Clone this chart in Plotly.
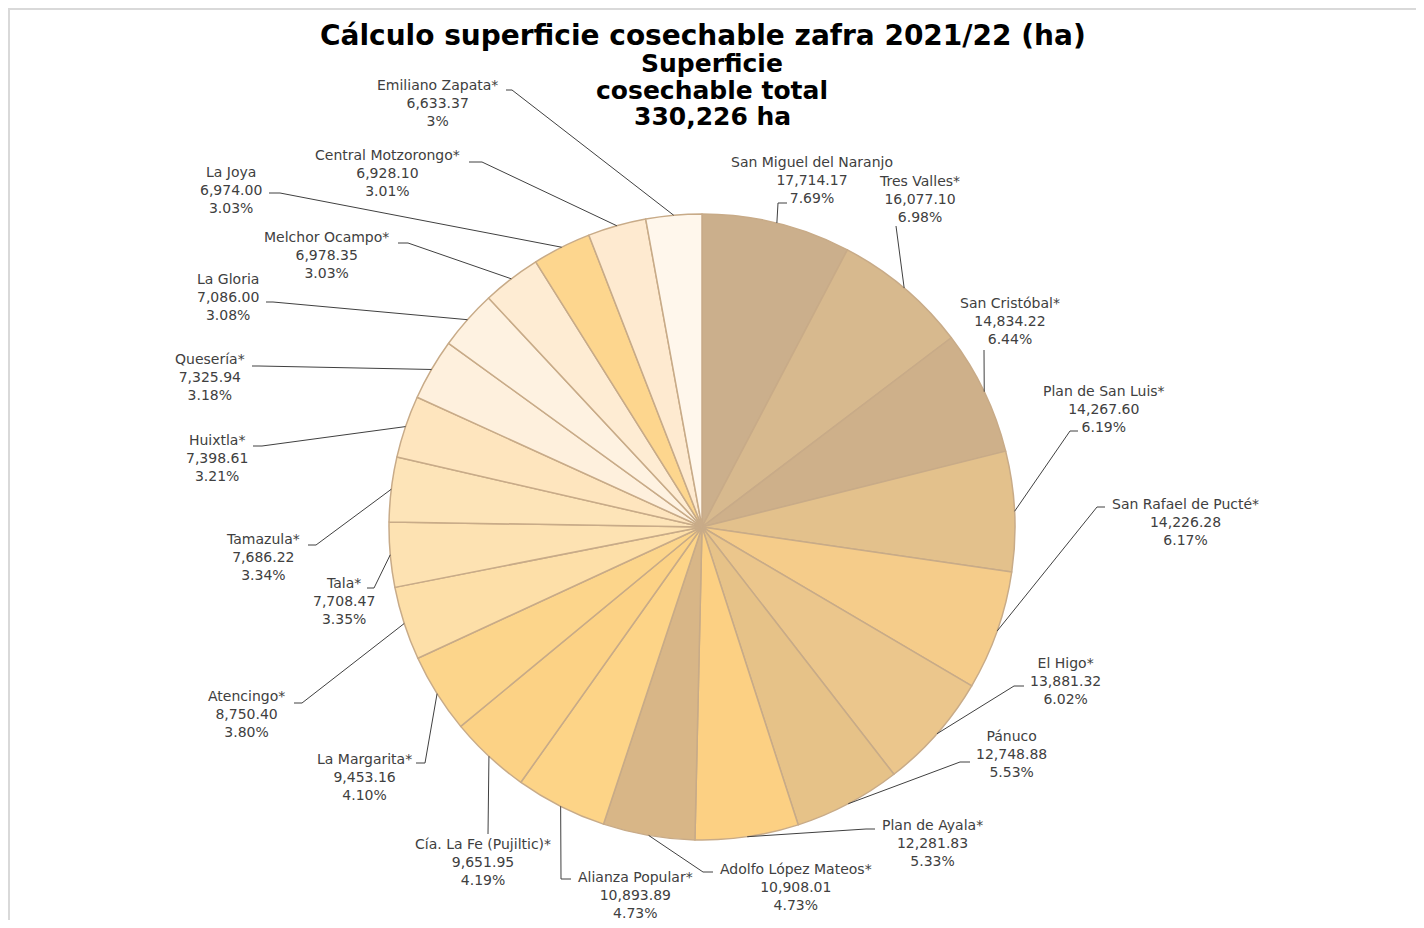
import numpy as np
import plotly.graph_objects as go

# ---------------- data ----------------
ingenios = [
    "San Miguel del Naranjo", "Tres Valles*", "San Cristóbal*", "Plan de San Luis*",
    "San Rafael de Pucté*", "El Higo*", "Pánuco", "Plan de Ayala*",
    "Adolfo López Mateos*", "Alianza Popular*", "Cía. La Fe (Pujiltic)*", "La Margarita*",
    "Atencingo*", "Tala*", "Tamazula*", "Huixtla*", "Quesería*", "La Gloria",
    "Melchor Ocampo*", "La Joya", "Central Motzorongo*", "Emiliano Zapata*",
]
superficie = [
    17714.17, 16077.10, 14834.22, 14267.60, 14226.28, 13881.32, 12748.88, 12281.83,
    10908.01, 10893.89, 9651.95, 9453.16, 8750.40, 7708.47, 7686.22, 7398.61,
    7325.94, 7086.00, 6978.35, 6974.00, 6928.10, 6633.37,
]
porcentaje = [
    "7.69%", "6.98%", "6.44%", "6.19%", "6.17%", "6.02%", "5.53%", "5.33%",
    "4.73%", "4.73%", "4.19%", "4.10%", "3.80%", "3.35%", "3.34%", "3.21%",
    "3.18%", "3.08%", "3.03%", "3.03%", "3.01%", "3%",
]
titulo = "Cálculo superficie cosechable zafra 2021/22 (ha)"
subtitulo = ["Superficie", "cosechable total", "330,226 ha"]

# ---------------- styles ----------------
colores = [
    "#CBAF8C", "#D7B98E", "#CEB08A", "#E3C18C", "#F5CC8A", "#EBC68C",
    "#E6C288", "#FCD083", "#D8B687", "#FDD487", "#FCD285", "#FCD58B",
    "#FDDFA8", "#FDE2B2", "#FDE4B8", "#FEE5BE", "#FEF0DD", "#FEF2E1",
    "#FEECD3", "#FDD68E", "#FEEAD0", "#FFF7EC",
]
OFF = 8            # page offset of the plot (body margin)
W, H = 1408, 912   # plot size
CX, CY, R = 702, 527, 313  # pie centre / radius in page pixels

# label layout: text centre (x, y), knee (x, y), end (x, y) in page pixels
label_layout = [
    (812, 180, 778, 203, 787, 203),
    (919, 199, 896, 226, 896, 226),
    (1010, 321, 984, 350, 984, 350),
    (1104, 409, 1070, 431, 1078, 431),
    (1185, 522, 1097, 507, 1105, 507),
    (1065, 681, 1014, 686, 1024, 686),
    (1011, 754, 960, 762, 970, 762),
    (932, 843, 866, 829, 875, 829),
    (796, 887, 703, 872, 713, 872),
    (635, 895, 561, 879, 571, 879),
    (483, 862, 488, 834, 488, 834),
    (364, 777, 425, 763, 416, 763),
    (246, 714, 302, 703, 294, 703),
    (344, 601, 374, 588, 367, 588),
    (263, 557, 316, 545, 308, 545),
    (217, 458, 262, 446, 253, 446),
    (210, 377, 259, 366, 252, 366),
    (228, 297, 273, 302, 266, 302),
    (326, 255, 408, 243, 398, 243),
    (231, 190, 280, 193, 269, 193),
    (387, 173, 482, 162, 469, 162),
    (437, 103, 512, 90, 506, 90),
]

FONT = "DejaVu Sans"
TXT = "#404040"


def px(x):
    return (x - OFF) / W


def py(y):
    return 1 - (y - OFF) / H


fig = go.Figure()
fig.add_trace(go.Pie(
    labels=ingenios,
    values=superficie,
    customdata=porcentaje,
    sort=False,
    direction="clockwise",
    rotation=0,
    textinfo="none",
    hovertemplate="%{label}<br>%{value:,.2f}<br>%{customdata}<extra></extra>",
    marker=dict(colors=colores, line=dict(color="#C8AB88", width=1.5)),
    domain=dict(x=[px(CX - R), px(CX + R)], y=[py(CY + R), py(CY - R)]),
    showlegend=False,
))

# slice mid-angles from data (clockwise from 12 o'clock)
vals = np.array(superficie)
cum = np.cumsum(vals) - vals / 2
theta = cum / vals.sum() * 2 * np.pi

shapes = [dict(type="rect", xref="paper", yref="paper",
               x0=1 / W, x1=1.05, y0=-0.05, y1=1 - 1 / H,
               line=dict(color="#D9D9D9", width=2), fillcolor="rgba(0,0,0,0)", layer="below")]
annotations = []
for i, name in enumerate(ingenios):
    ex = CX + R * np.sin(theta[i])
    ey = CY - R * np.cos(theta[i])
    tx, ty, kx, ky, endx, endy = label_layout[i]
    shapes.append(dict(
        type="path", xref="paper", yref="paper",
        path=f"M {px(ex)} {py(ey)} L {px(kx)} {py(ky)} L {px(endx)} {py(endy)}",
        line=dict(color="#404040", width=1),
    ))
    annotations.append(dict(
        x=px(tx), y=py(ty), xref="paper", yref="paper",
        text=f"{name}<br>{superficie[i]:,.2f}<br>{porcentaje[i]}",
        showarrow=False, xanchor="center", yanchor="middle", align="center",
        font=dict(family=FONT, size=14, color=TXT),
    ))

annotations.append(dict(
    x=px(703), y=py(36), xref="paper", yref="paper", text=f"<b>{titulo}</b>",
    showarrow=False, xanchor="center", yanchor="middle",
    font=dict(family=FONT, size=28, color="#000000"),
))
for j, line in enumerate(subtitulo):
    annotations.append(dict(
        x=px(712), y=py(63 + 27 * j), xref="paper", yref="paper", text=f"<b>{line}</b>",
        showarrow=False, xanchor="center", yanchor="middle",
        font=dict(family=FONT, size=25, color="#000000"),
    ))

fig.update_layout(
    margin=dict(l=0, r=0, t=0, b=0),
    paper_bgcolor="white",
    plot_bgcolor="white",
    shapes=shapes,
    annotations=annotations,
    font=dict(family=FONT, color=TXT),
)

fig.write_html("out.html")
